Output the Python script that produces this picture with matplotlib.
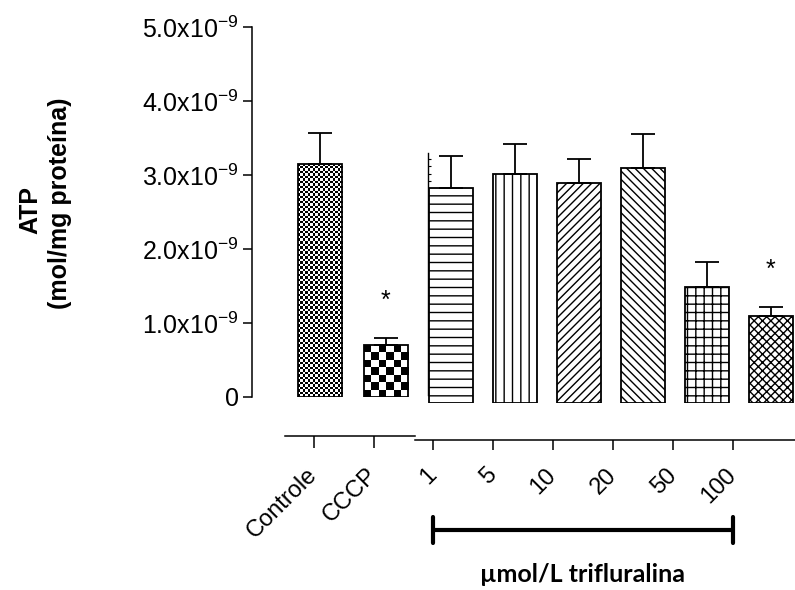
import numpy as np
import matplotlib
matplotlib.use('Agg')
import matplotlib.pyplot as plt
from matplotlib.ticker import FixedLocator
import matplotlib.transforms as mtransforms

plt.rcParams['font.family'] = ['Liberation Sans', 'DejaVu Sans']
plt.rcParams['mathtext.fontset'] = 'custom'
plt.rcParams['mathtext.rm'] = 'Liberation Sans'
plt.rcParams['mathtext.it'] = 'Liberation Sans:italic'
plt.rcParams['mathtext.bf'] = 'Liberation Sans:bold'
plt.rcParams['hatch.linewidth'] = 1.0

# dados (ATP em 1e-9 mol/mg proteína)
grupos_ctrl = ['Controle', 'CCCP']
atp_ctrl = [3.15, 0.70]
epm_ctrl = [0.42, 0.10]
sig_ctrl = [False, True]

conc = ['1', '5', '10', '20', '50', '100']
atp_trif = [2.90, 3.10, 2.97, 3.18, 1.57, 1.18]
epm_trif = [0.44, 0.40, 0.33, 0.45, 0.33, 0.12]
sig_trif = [False, False, False, False, False, True]

yticks = [0, 1, 2, 3, 4, 5]
ytick_labels = ['0', '1.0x10$^{-9}$', '2.0x10$^{-9}$', '3.0x10$^{-9}$',
                '4.0x10$^{-9}$', '5.0x10$^{-9}$']
hatches_trif = ['--', '||', '////', '\\\\\\\\', '++', 'xxxx']

W, H = 795, 590
fig = plt.figure(figsize=(W / 100, H / 100), dpi=100)


def px_axes(x0, y_top, x1, y_bot):
    # posição em pixels -> fração da figura
    return fig.add_axes([x0 / W, 1 - y_bot / H, (x1 - x0) / W, (y_bot - y_top) / H])


def checker(ax, bar, ncols):
    x0, w, h = bar.get_x(), bar.get_width(), bar.get_height()
    p0 = ax.transData.transform((x0, 0))
    p1 = ax.transData.transform((x0 + w, h))
    cell = (p1[0] - p0[0]) / ncols
    nrows = max(1, int(round((p1[1] - p0[1]) / cell)))
    arr = np.add.outer(np.arange(nrows), np.arange(ncols)) % 2
    im = ax.imshow(arr, cmap='gray', extent=[x0, x0 + w, 0, h], origin='lower',
                   aspect='auto', interpolation='nearest', zorder=1)
    im.set_clip_path(bar)


# --- painel esquerdo (barras controle / CCCP)
axA = px_axes(252, 27, 425, 397)
xa = np.arange(len(grupos_ctrl))
axA.set_xlim(-1.03, -1.03 + 173 / 66)
axA.set_ylim(0, 5)
barsA = axA.bar(xa, atp_ctrl, width=0.68, facecolor='none', edgecolor='black',
                linewidth=1.3, zorder=2)
for b, n in zip(barsA, [18, 6]):
    checker(axA, b, n)
axA.set_xlim(-1.03, -1.03 + 173 / 66)
axA.set_ylim(0, 5)
axA.errorbar(xa, atp_ctrl, yerr=[np.zeros(len(xa)), epm_ctrl], fmt='none',
             ecolor='black', elinewidth=1.3, capsize=8.5, capthick=1.3, zorder=3)
for x, v, e, s in zip(xa, atp_ctrl, epm_ctrl, sig_ctrl):
    if s:
        axA.text(x, v + e + 0.5, '*', ha='center', va='center', fontsize=18)
axA.set_yticks(yticks)
axA.set_yticklabels(ytick_labels)
axA.tick_params(axis='y', length=6.5, width=1.1, pad=3, labelsize=18)
axA.set_xticks([])
for s in ['top', 'right', 'bottom']:
    axA.spines[s].set_visible(False)
axA.spines['left'].set_linewidth(1.1)
axA.patch.set_visible(False)

# rótulo do eixo y
fig.text(30 / W, 1 - 210 / H, 'ATP', rotation=90, ha='center', va='center',
         fontsize=18, fontweight='bold')
fig.text(60 / W, 1 - 203 / H, '(mol/mg proteína)', rotation=90, ha='center',
         va='center', fontsize=18, fontweight='bold')

# --- painel direito (trifluralina)
axB = px_axes(428, 33, 795, 403)
xb = np.arange(len(conc))
axB.set_xlim(-0.359, -0.359 + 367 / 64)
axB.set_ylim(0, 5)
axB.bar(xb, atp_trif, width=0.70, color='white', edgecolor='black',
        hatch=hatches_trif, linewidth=1.3, zorder=2)
axB.errorbar(xb, atp_trif, yerr=[np.zeros(len(xb)), epm_trif], fmt='none',
             ecolor='black', elinewidth=1.3, capsize=8.5, capthick=1.3, zorder=3)
for x, v, e, s in zip(xb, atp_trif, epm_trif, sig_trif):
    if s:
        axB.text(x, v + e + 0.5, '*', ha='center', va='center', fontsize=18)
for s in ['top', 'right', 'bottom']:
    axB.spines[s].set_visible(False)
axB.spines['left'].set_bounds(0.11, 3.38)
axB.spines['left'].set_linewidth(1.0)
axB.set_yticks([])
axB.yaxis.set_minor_locator(FixedLocator(np.arange(0.2, 3.35, 0.1)))
axB.tick_params(axis='y', which='minor', direction='in', length=2, width=0.8)
axB.set_xticks([])
axB.patch.set_visible(False)

# --- eixos de categorias
axC = px_axes(285, 435, 415, 436)
axC.set_xlim(-(314 - 285) / 60, -(314 - 285) / 60 + 130 / 60)
axC.set_xticks(np.arange(len(grupos_ctrl)))
axC.set_xticklabels(grupos_ctrl, rotation=45, ha='right', va='center',
                    rotation_mode='anchor')
axC.set_yticks([])
axC.tick_params(axis='x', length=8.5, width=1.1, pad=17, labelsize=17)
for s in ['top', 'right', 'left']:
    axC.spines[s].set_visible(False)
axC.spines['bottom'].set_linewidth(1.1)
axC.patch.set_visible(False)

axD = px_axes(415, 439, 795, 440)
axD.set_xlim(-0.3, -0.3 + 380 / 60)
axD.set_xticks(np.arange(len(conc)))
axD.set_xticklabels(conc, rotation=45, ha='right', va='center',
                    rotation_mode='anchor')
axD.set_yticks([])
axD.tick_params(axis='x', length=7, width=1.1, pad=16, labelsize=17)
for s in ['top', 'right', 'left']:
    axD.spines[s].set_visible(False)
axD.spines['bottom'].set_linewidth(1.1)
axD.patch.set_visible(False)

# barra de agrupamento
tr = mtransforms.blended_transform_factory(axD.transData, fig.transFigure)
yb = 1 - 530 / H
axD.plot([0, len(conc) - 1], [yb, yb], color='black', lw=3, transform=tr,
         clip_on=False, solid_capstyle='butt')
for xe in [0, len(conc) - 1]:
    axD.plot([xe, xe], [yb - 13 / H, yb + 13 / H], color='black', lw=3,
             transform=tr, clip_on=False, solid_capstyle='round')
axD.text((len(conc) - 1) / 2, 1 - 575 / H, 'µmol/L trifluralina', transform=tr,
         ha='center', va='center', fontsize=18, fontweight='bold', family='Lato')

fig.savefig('out.png', dpi=100)
